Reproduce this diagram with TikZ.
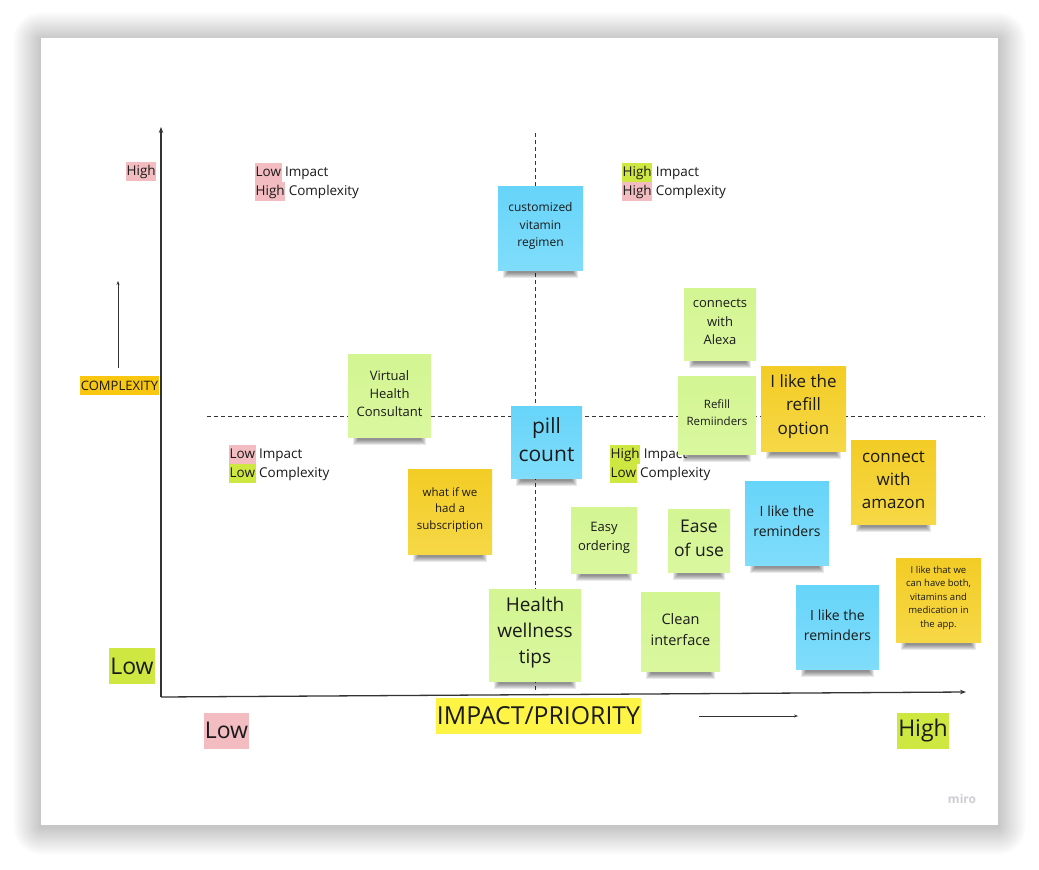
\documentclass[tikz,border=0pt]{standalone}
\usepackage{fontspec}
\setmainfont{Open Sans}
\usetikzlibrary{arrows.meta,calc}
\definecolor{ink}{HTML}{1A1A1A}
\definecolor{hlpink}{HTML}{F2BCC0}
\definecolor{hlgreen}{HTML}{CEE741}
\definecolor{cplx}{HTML}{FAC710}
\definecolor{impy}{HTML}{FEF445}
\definecolor{bluetop}{HTML}{66D4F9}
\definecolor{bluebot}{HTML}{80DDFB}
\definecolor{greentop}{HTML}{D3F592}
\definecolor{greenbot}{HTML}{DAF79E}
\definecolor{yeltop}{HTML}{F3CC25}
\definecolor{yelbot}{HTML}{F6D846}
\definecolor{axisc}{HTML}{333333}
\definecolor{miroc}{HTML}{CDCDD4}
\setlength{\fboxsep}{0pt}
\newcommand\hlp[1]{\colorbox{hlpink}{\strut\kern0.5pt#1\kern0.5pt}}
\newcommand\hlg[1]{\colorbox{hlgreen}{\strut\kern0.5pt#1\kern0.5pt}}
\newcommand\stk[8]{%
  \foreach \k in {0,...,5}{\fill[black,opacity=0.085] (#2+5+\k,#5-4) rectangle (#4-5-\k,#5+8-\k);}
  \node[sticky,#6,minimum width={#4pt-#2pt},minimum height={#5pt-#3pt}] (#1) at ({(#2+#4)/2},{(#3+#5)/2}) {};
  \node[stickytext,font=\fontsize#7\selectfont] (#1-text) at ([yshift=2pt]#1.center) {#8};}
\tikzset{
  sticky/.style={inner sep=0pt},
  stickytext/.style={inner sep=0pt, align=center, text=ink},
  bluenote/.style={top color=bluetop, bottom color=bluebot},
  greennote/.style={top color=greentop, bottom color=greenbot},
  yellownote/.style={top color=yeltop, bottom color=yelbot},
  quad/.style={font=\fontsize{13.5}{19}\selectfont, align=left, inner sep=0pt, anchor=north west, text=ink},
  bigl/.style={font=\fontsize{23}{28}\selectfont, inner xsep=1pt, inner ysep=0pt, minimum height=36pt, text=ink},
  axisline/.style={draw=axisc, line width=1.3pt, -{Stealth[length=6pt,width=4.5pt]}},
  smallarrow/.style={draw=axisc, line width=0.9pt, -{Stealth[length=4pt,width=3pt]}},
  quadline/.style={draw=axisc, line width=0.8pt, dash pattern=on 4pt off 3pt},
}
\begin{document}
\begin{tikzpicture}[x=1pt,y=-1pt]
\useasboundingbox (0,0) rectangle (1039,870);
\fill[white] (0,0) rectangle (1039,870);
% card shadow
\foreach \i in {1,...,28}{\fill[black,opacity=0.008,rounded corners=\i pt] (41-\i,38-\i+2) rectangle (998+\i,825+\i+2);}
\fill[white] (41,38) rectangle (998,825);
% quadrant lines
\coordinate (vtop) at (535,133);
\coordinate (vbot) at (535,690);
\coordinate (hleft) at (207,416);
\coordinate (hright) at (985,416);
\draw[quadline] (vtop) -- (vbot);
\draw[quadline] (hleft) -- (hright);
% axes
\coordinate (orig) at (161,697);
\coordinate (ytop) at (161,127);
\coordinate (xend) at (966,692);
\draw[axisline] (orig) -- (ytop);
\draw[axisline] (orig) -- (xend);
\coordinate (ca0) at (118,368);
\coordinate (ca1) at (118,281);
\draw[smallarrow] (ca0) -- (ca1);
\coordinate (ia0) at (699,716);
\coordinate (ia1) at (798,716);
\draw[smallarrow] (ia0) -- (ia1);
% labels
\node[quad] (yhigh) at (126,162) {\hlp{High}};
\node[quad] (lihc) at (255,162.5) {\hlp{Low} Impact\\\hlp{High} Complexity};
\node[quad] (hihc) at (622,162.5) {\hlg{High} Impact\\\hlp{High} Complexity};
\node[quad] (lilc) at (229,444.5) {\hlp{Low} Impact\\\hlg{Low} Complexity};
\node[quad] (hilc) at (610,444.5) {\hlg{High} Impact\\\hlg{Low} Complexity};
\node[fill=cplx, font=\fontsize{13}{19}\selectfont, inner xsep=0.5pt, inner ysep=0pt, minimum height=19pt, text=ink] (cplxlab) at (119.5,385.5) {COMPLEXITY};
\node[bigl, fill=hlgreen] (ylow) at (132,666) {Low};
\node[bigl, fill=hlpink] (xlow) at (226.5,730.5) {Low};
\node[bigl, fill=impy, font=\fontsize{24.8}{28}\selectfont, inner xsep=0.5pt] (implab) at (538.5,715.5) {IMPACT/PRIORITY};
\node[bigl, fill=hlgreen] (xhigh) at (923,730.5) {High};
\node[font=\fontsize{12}{14}\selectfont\bfseries, text=miroc] (miro) at (962,799) {miro};
% sticky notes
\stk{cvr}{498}{186}{583}{270}{bluenote}{{12}{17.5}}{customized\\vitamin\\regimen}
\stk{alexa}{684}{288}{756}{360}{greennote}{{13}{18.5}}{connects\\with\\Alexa}
\stk{vhc}{348}{354}{431}{437}{greennote}{{13}{18.3}}{Virtual\\Health\\Consultant}
\stk{pill}{511}{406}{582}{478}{bluenote}{{21}{28}}{pill\\count}
\stk{refill}{678}{376}{756}{454}{greennote}{{11.5}{16.7}}{Refill\\Remiinders}
\stk{likerefill}{761}{366}{846}{451}{yellownote}{{17}{23.3}}{I like the\\refill\\option}
\stk{amazon}{851}{440}{936}{524}{yellownote}{{17}{23.3}}{connect\\with\\amazon}
\stk{subs}{408}{469}{492}{554}{yellownote}{{11.5}{16.5}}{what if we\\had a\\subscription}
\stk{easy}{571}{507}{637}{573}{greennote}{{13}{18.7}}{Easy\\ordering}
\stk{ease}{668}{509}{730}{572}{greennote}{{17.5}{24}}{Ease\\of use}
\stk{remone}{745}{481}{829}{565}{bluenote}{{14}{20}}{I like the\\reminders}
\stk{both}{896}{558}{981}{642}{yellownote}{{9.5}{13.5}}{I like that we\\can have both,\\vitamins and\\medication in\\the app.}
\stk{hwt}{489}{589}{581}{681}{greennote}{{19}{26}}{Health\\wellness\\tips}
\stk{clean}{641}{592}{720}{671}{greennote}{{14.5}{20.7}}{Clean\\interface}
\stk{remtwo}{796}{585}{879}{669}{bluenote}{{14}{20}}{I like the\\reminders}
\end{tikzpicture}
\end{document}
